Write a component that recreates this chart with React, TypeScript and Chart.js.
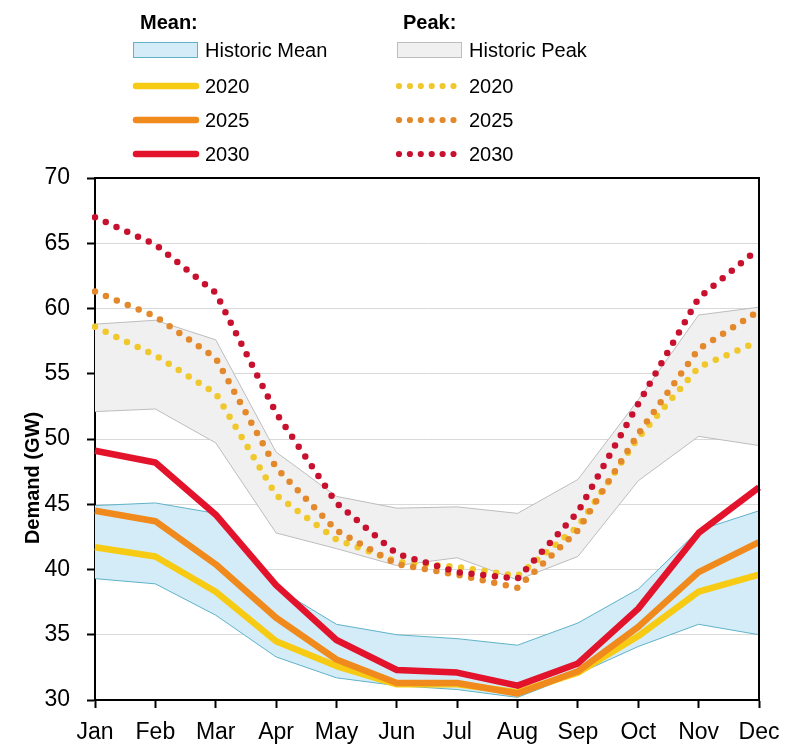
import React, { useEffect, useRef } from 'react';
import { Chart, registerables } from 'chart.js';

Chart.register(...registerables);

const FONT = "'Liberation Sans', Arial, Helvetica, sans-serif";

const months = ['Jan', 'Feb', 'Mar', 'Apr', 'May', 'Jun', 'Jul', 'Aug', 'Sep', 'Oct', 'Nov', 'Dec'];
const yTicks = [30, 35, 40, 45, 50, 55, 60, 65, 70];

// Historic bands (GW)
const historicMeanLow = [39.3, 38.9, 36.5, 33.3, 31.7, 31.1, 30.8, 30.2, 32.0, 34.1, 35.8, 35.0];
const historicMeanHigh = [44.9, 45.1, 44.3, 38.6, 35.8, 35.0, 34.7, 34.2, 35.9, 38.5, 43.0, 44.5];
const historicPeakLow = [52.1, 52.3, 49.7, 42.8, 41.6, 40.3, 40.9, 39.2, 41.0, 46.8, 50.2, 49.5];
const historicPeakHigh = [58.8, 59.1, 57.6, 49.0, 45.6, 44.7, 44.8, 44.3, 46.9, 53.0, 59.5, 60.1];

// Mean demand projections (GW)
const mean2020 = [41.7, 41.0, 38.3, 34.5, 32.6, 31.2, 31.2, 30.6, 32.1, 34.9, 38.3, 39.6];
const mean2025 = [44.5, 43.7, 40.4, 36.3, 33.1, 31.3, 31.3, 30.5, 32.2, 35.6, 39.8, 42.1];
const mean2030 = [49.1, 48.2, 44.2, 38.8, 34.6, 32.3, 32.1, 31.1, 32.8, 37.0, 42.8, 46.3];

// Peak demand projections (GW)
const peak2020 = [58.6, 56.4, 53.5, 45.7, 42.3, 40.6, 40.2, 39.5, 43.3, 50.1, 55.5, 57.5];
const peak2025 = [61.3, 59.4, 56.2, 47.8, 43.0, 40.4, 39.6, 38.6, 43.0, 50.4, 56.9, 59.8];
const peak2030 = [67.0, 64.9, 61.2, 52.0, 45.1, 41.2, 39.8, 39.3, 44.4, 52.7, 60.8, 64.6];

const groupTitles = ['Mean:', 'Peak:'];

const COLORS = {
  meanFill: '#d3ecf8',
  meanEdge: '#5fb3c8',
  peakFill: '#f0f0f0',
  peakEdge: '#bdbdbd',
  y2020: '#f7cb14',
  y2025: '#f08a1d',
  y2030: '#e3132c',
  d2020: '#f0c82c',
  d2025: '#e3892b',
  d2030: '#c8112f',
};

const framePlugin = {
  id: 'frameAndLegend',
  afterDraw(chart: any) {
    const ctx = chart.ctx as CanvasRenderingContext2D;
    const { left, right, top, bottom } = chart.chartArea;
    ctx.save();
    // top and right frame
    ctx.strokeStyle = '#000';
    ctx.lineWidth = 2;
    ctx.beginPath();
    ctx.moveTo(left, top);
    ctx.lineTo(right, top);
    ctx.lineTo(right, bottom);
    ctx.stroke();

    // y axis title
    ctx.save();
    ctx.translate(33, 478);
    ctx.rotate(-Math.PI / 2);
    ctx.font = `bold 20px ${FONT}`;
    ctx.fillStyle = '#000';
    ctx.textAlign = 'center';
    ctx.textBaseline = 'middle';
    ctx.fillText('Demand (GW)', 0, 0);
    ctx.restore();

    // legend
    const colX = [133, 397];
    const headX = [140, 403];
    const rowY = [50, 86, 120, 154];
    ctx.font = `bold 20px ${FONT}`;
    ctx.fillStyle = '#000';
    ctx.textAlign = 'left';
    ctx.textBaseline = 'middle';
    groupTitles.forEach((t, i) => ctx.fillText(t, headX[i], 23));

    chart.data.datasets.forEach((ds: any) => {
      const lg = ds.legend;
      if (!lg) return;
      const x0 = colX[lg.col];
      const y = rowY[lg.row];
      if (lg.kind === 'band') {
        ctx.fillStyle = ds.backgroundColor;
        ctx.fillRect(x0, y - 8, 65, 16);
        ctx.strokeStyle = ds.borderColor;
        ctx.lineWidth = 1;
        ctx.strokeRect(x0 + 0.5, y - 7.5, 64, 15);
      } else if (lg.kind === 'line') {
        ctx.strokeStyle = ds.borderColor;
        ctx.lineWidth = 6.5;
        ctx.lineCap = 'round';
        ctx.beginPath();
        ctx.moveTo(x0 + 3, y);
        ctx.lineTo(x0 + 63, y);
        ctx.stroke();
      } else {
        ctx.fillStyle = ds.borderColor;
        for (let i = 0; i < 6; i++) {
          ctx.beginPath();
          ctx.arc(x0 + 2 + i * 10.9, y, 3.1, 0, Math.PI * 2);
          ctx.fill();
        }
      }
      ctx.font = `20px ${FONT}`;
      ctx.fillStyle = '#000';
      ctx.fillText(ds.label, x0 + 72, y + 1);
    });
    ctx.restore();
  },
};

export default function App() {
  const ref = useRef<HTMLCanvasElement>(null);

  useEffect(() => {
    const canvas = ref.current!;
    const solid = (label: string, data: number[], color: string, order: number, row: number) => ({
      label,
      data,
      borderColor: color,
      backgroundColor: color,
      borderWidth: 6.5,
      borderJoinStyle: 'round',
      pointRadius: 0,
      fill: false,
      order,
      legend: { col: 0, row, kind: 'line' },
    });
    const dotted = (label: string, data: number[], color: string, order: number, row: number) => ({
      label,
      data,
      borderColor: color,
      backgroundColor: color,
      borderWidth: 6.5,
      borderCapStyle: 'round',
      borderDash: [0, 11.8],
      pointRadius: 0,
      fill: false,
      order,
      legend: { col: 1, row, kind: 'dots' },
    });

    const chart = new Chart(canvas, {
      type: 'line',
      data: {
        labels: months,
        datasets: [
          {
            label: 'Historic Peak (low)',
            data: historicPeakLow,
            borderColor: COLORS.peakEdge,
            borderWidth: 1,
            pointRadius: 0,
            fill: false,
            order: 20,
          },
          {
            label: 'Historic Peak',
            data: historicPeakHigh,
            borderColor: COLORS.peakEdge,
            backgroundColor: COLORS.peakFill,
            borderWidth: 1,
            pointRadius: 0,
            fill: '-1',
            order: 20,
            legend: { col: 1, row: 0, kind: 'band' },
          },
          {
            label: 'Historic Mean (low)',
            data: historicMeanLow,
            borderColor: COLORS.meanEdge,
            borderWidth: 1,
            pointRadius: 0,
            fill: false,
            order: 19,
          },
          {
            label: 'Historic Mean',
            data: historicMeanHigh,
            borderColor: COLORS.meanEdge,
            backgroundColor: COLORS.meanFill,
            borderWidth: 1,
            pointRadius: 0,
            fill: '-1',
            order: 19,
            legend: { col: 0, row: 0, kind: 'band' },
          },
          dotted('2020', peak2020, COLORS.d2020, 9, 1),
          dotted('2025', peak2025, COLORS.d2025, 8, 2),
          dotted('2030', peak2030, COLORS.d2030, 7, 3),
          solid('2020', mean2020, COLORS.y2020, 3, 1),
          solid('2025', mean2025, COLORS.y2025, 2, 2),
          solid('2030', mean2030, COLORS.y2030, 1, 3),
        ] as any,
      },
      options: {
        responsive: false,
        animation: false,
        devicePixelRatio: 1,
        layout: { padding: { top: 178, right: 26, bottom: 0, left: 0 } },
        elements: { line: { tension: 0 }, point: { radius: 0 } },
        plugins: {
          legend: { display: false },
          tooltip: { enabled: false },
          title: { display: false },
        },
        scales: {
          x: {
            grid: {
              drawOnChartArea: false,
              drawTicks: true,
              tickLength: 8,
              tickColor: '#000',
              tickWidth: 2,
            },
            border: { display: true, color: '#000', width: 2 },
            ticks: {
              color: '#000',
              font: { size: 23, family: FONT },
              padding: 11,
              maxRotation: 0,
              autoSkip: false,
            },
            afterFit: (s: any) => {
              s.height = 46;
              s.paddingLeft = 0;
              s.paddingRight = 0;
            },
          },
          y: {
            min: 30,
            max: 70,
            afterBuildTicks: (s: any) => {
              s.ticks = yTicks.map((v) => ({ value: v }));
            },
            grid: {
              color: '#d9d9d9',
              lineWidth: 1,
              tickLength: 8,
              tickColor: '#000',
              tickWidth: 2,
            },
            border: { display: true, color: '#000', width: 2 },
            ticks: {
              color: '#000',
              font: { size: 23, family: FONT },
              padding: 17,
            },
            afterFit: (s: any) => {
              s.width = 95;
              s.paddingTop = 0;
              s.paddingBottom = 0;
            },
          },
        },
      } as any,
      plugins: [framePlugin],
    });
    return () => chart.destroy();
  }, []);

  return (
    <div style={{ position: 'fixed', left: 0, top: 0, width: 785, height: 746, background: '#fff' }}>
      <canvas ref={ref} width={785} height={746} style={{ display: 'block' }} />
    </div>
  );
}
